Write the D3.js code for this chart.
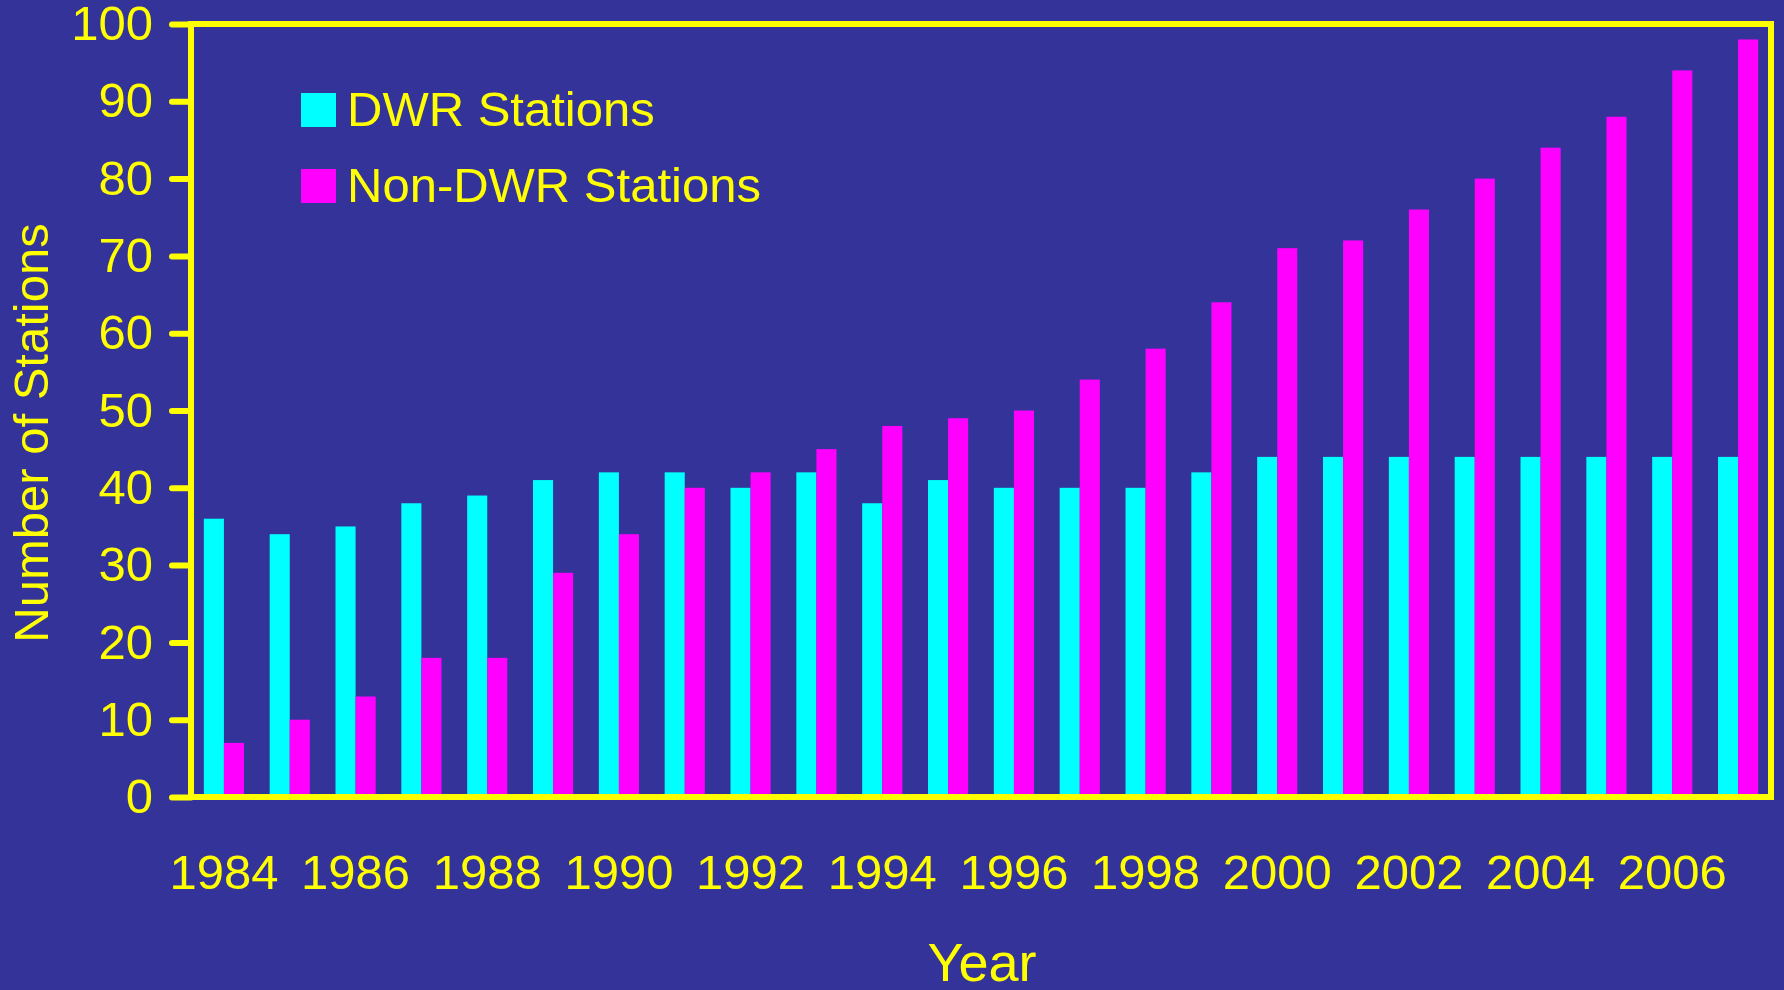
<html><head>
<title>DWR and Non-DWR Stations</title>
<script src="https://d3js.org/d3.v7.min.js"></script>
<style>
  body {
    margin: 0;
    background: #333399;
  }
  svg text {
    font-family: "Liberation Sans", Arial, sans-serif;
    fill: #ffff00;
  }
  .axis .domain {
    stroke: none;
  }
  .y.axis line {
    stroke: #ffff00;
    stroke-width: 6;
    stroke-linecap: round;
  }
</style>
</head>
<body>
<svg id="chart" width="1784" height="990"></svg>

<script>

  // Data
  const years = [1984, 1985, 1986, 1987, 1988, 1989, 1990, 1991, 1992, 1993, 1994, 1995,
                 1996, 1997, 1998, 1999, 2000, 2001, 2002, 2003, 2004, 2005, 2006, 2007];
  const dwrStations = [36, 34, 35, 38, 39, 41, 42, 42, 40, 42, 38, 41,
                       40, 40, 40, 42, 44, 44, 44, 44, 44, 44, 44, 44];
  const nonDwrStations = [7, 10, 13, 18, 18, 29, 34, 40, 42, 45, 48, 49,
                          50, 54, 58, 64, 71, 72, 76, 80, 84, 88, 94, 98];
  const seriesNames = ["DWR Stations", "Non-DWR Stations"];
  const seriesColors = ["#00ffff", "#ff00ff"];
  const yTicks = [0, 10, 20, 30, 40, 50, 60, 70, 80, 90, 100];
  const xTickYears = [1984, 1986, 1988, 1990, 1992, 1994, 1996, 1998, 2000, 2002, 2004, 2006];

  const svg = d3.select("svg#chart");

  // plot box in page pixels
  const plotLeft = 191, plotRight = 1771, plotTop = 24, plotBottom = 797;

  const xScale = d3.scaleBand().domain(years).range([plotLeft, plotRight])
                   .paddingInner(0.39).paddingOuter(0.195);
  const seriesScale = d3.scaleBand().domain(seriesNames).range([0, xScale.bandwidth()]);
  const yScale = d3.scaleLinear().domain([0, 100]).range([plotBottom, plotTop]);

  // bars
  let bars = svg.append("g").attr("id", "bars");
  years.forEach( (yr, i) => {
    [dwrStations[i], nonDwrStations[i]].forEach( (v, s) => {
      bars.append("rect")
        .attr("x", xScale(yr) + seriesScale(seriesNames[s]))
        .attr("y", yScale(v))
        .attr("width", seriesScale.bandwidth())
        .attr("height", yScale(0) - yScale(v))
        .attr("fill", seriesColors[s]);
    });
  });

  // frame around the plot
  svg.append("rect")
    .attr("x", plotLeft).attr("y", plotTop)
    .attr("width", plotRight - plotLeft).attr("height", plotBottom - plotTop)
    .attr("fill", "none")
    .attr("stroke", "#ffff00")
    .attr("stroke-width", 6);

  // Y axis
  let leftAxis = d3.axisLeft(yScale).tickValues(yTicks).tickSize(19).tickPadding(19);
  svg.append("g")
    .attr("class", "y axis")
    .attr("transform", "translate(" + plotLeft + ",0)")
    .call(leftAxis)
    .selectAll("text")
    .attr("font-size", 49);

  // X axis (labels only)
  let bottomAxis = d3.axisBottom(xScale).tickValues(xTickYears).tickSize(0).tickPadding(57);
  svg.append("g")
    .attr("class", "x axis")
    .attr("transform", "translate(0," + plotBottom + ")")
    .call(bottomAxis)
    .selectAll("text")
    .attr("font-size", 49);

  // axis titles
  svg.append("text")
    .attr("transform", "translate(48,433) rotate(-90)")
    .attr("text-anchor", "middle")
    .attr("font-size", 49)
    .text("Number of Stations");

  svg.append("text")
    .attr("x", 982).attr("y", 981)
    .attr("text-anchor", "middle")
    .attr("font-size", 54)
    .text("Year");

  // legend
  let legend = svg.append("g").attr("id", "legend");
  seriesNames.forEach( (name, i) => {
    legend.append("rect")
      .attr("x", 301).attr("y", 93 + i * 76)
      .attr("width", 35).attr("height", 34)
      .attr("fill", seriesColors[i]);
    legend.append("text")
      .attr("x", 347).attr("y", 126 + i * 76)
      .attr("font-size", 49)
      .text(name);
  });

</script>
</body>
</html>
